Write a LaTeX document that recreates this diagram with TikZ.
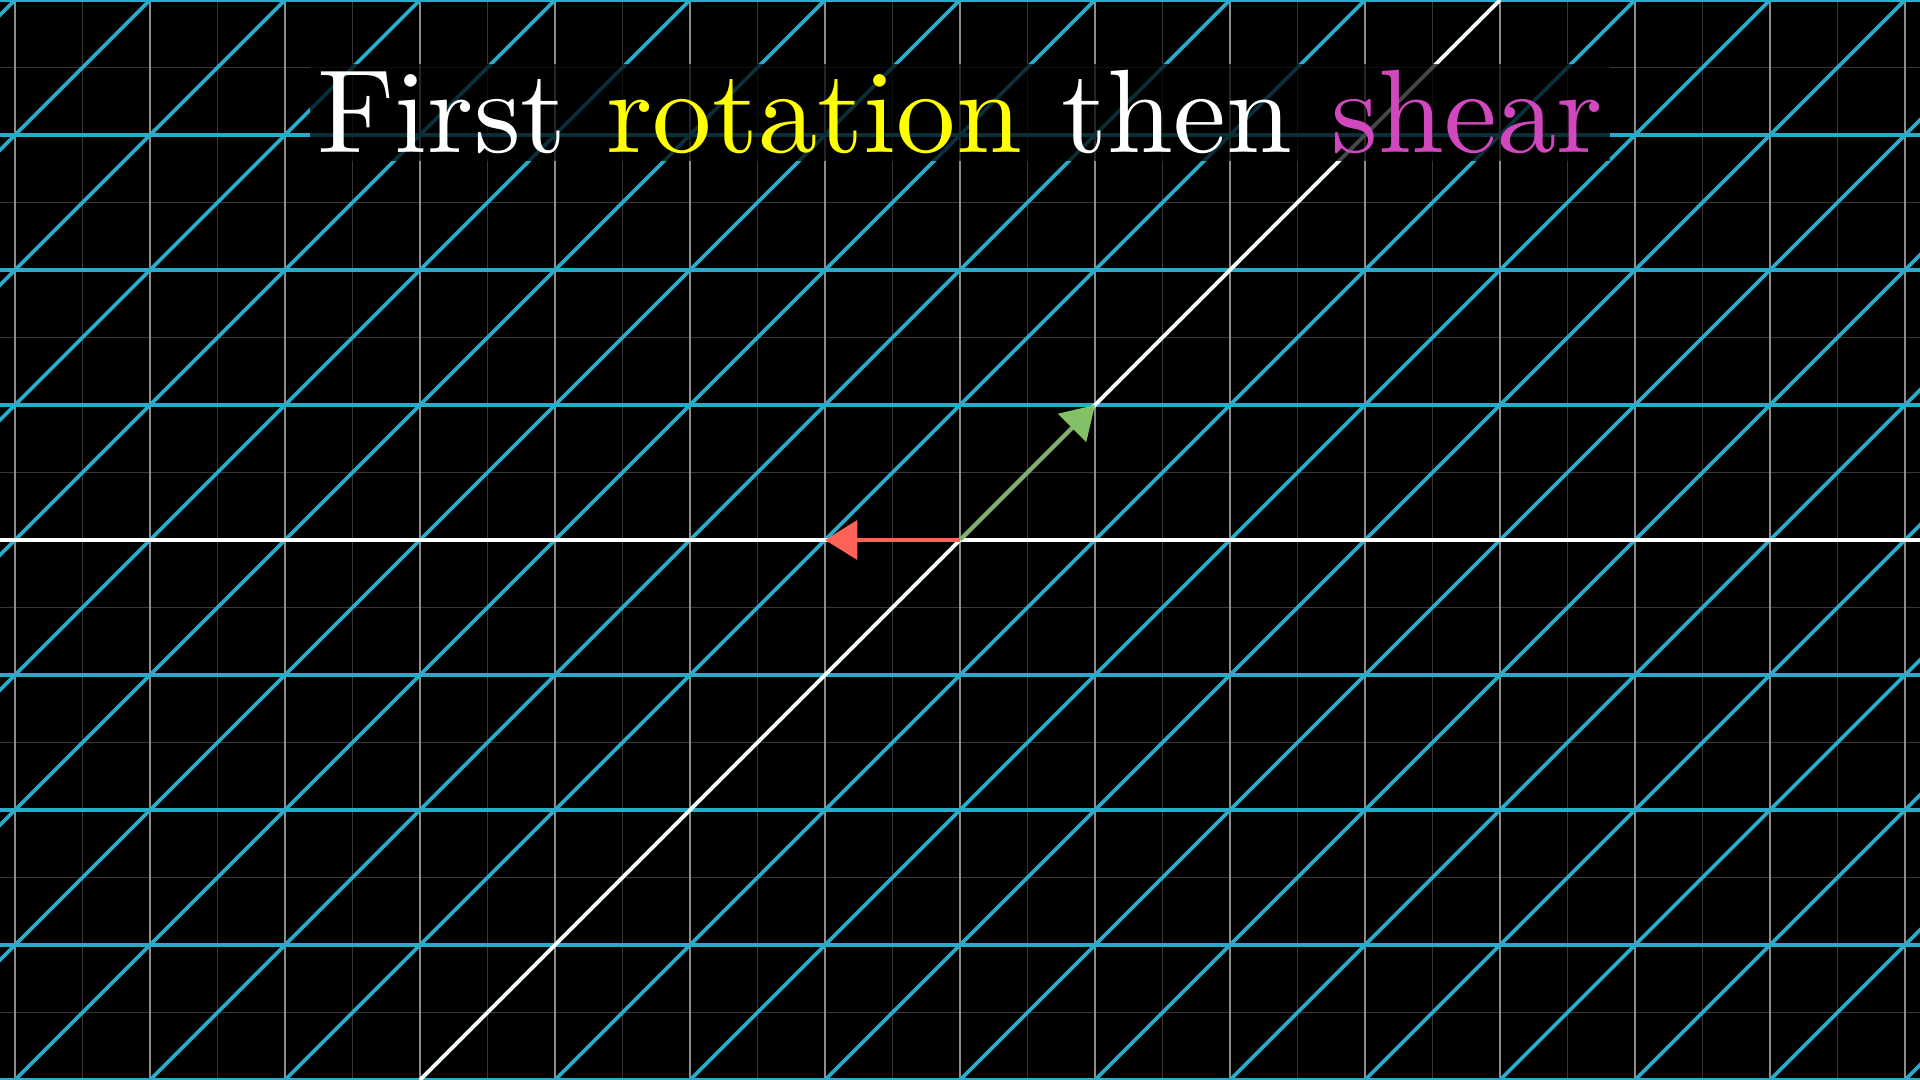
\documentclass[tikz,border=0pt]{standalone}
\usetikzlibrary{arrows.meta}
\definecolor{gridblue}{HTML}{29ABCA}
\definecolor{vecgreen}{HTML}{83C167}
\definecolor{vecred}{HTML}{FC6255}
\definecolor{rotyellow}{HTML}{FFFF00}
\definecolor{shearpink}{HTML}{D147BD}
\begin{document}
\begin{tikzpicture}[
    halfline/.style={black!78, line width=0.3pt},
    unitline/.style={white!55!black, line width=0.4pt},
    bluegrid/.style={gridblue, line width=0.8pt},
    axisline/.style={white, line width=0.8pt},
    vector/.style={line width=0.8pt, -{Triangle[length=2.4mm, width=2.9mm]}},
  ]
    % frame: 14.22 x 8 units, origin in the middle
    \fill[black] (-7.1111,-4) rectangle (7.1111,4);
    \useasboundingbox (-7.1111,-4) rectangle (7.1111,4);
    \clip (-7.1111,-4) rectangle (7.1111,4);
    % background plane
    \foreach \x in {-8,...,7} {
        \draw[halfline] (\x+0.5,-4) -- (\x+0.5,4);
    }
    \foreach \y in {-5,...,4} {
        \draw[halfline] (-7.2,\y+0.5) -- (7.2,\y+0.5);
    }
    \foreach \x in {-7,...,7} {
        \draw[unitline] (\x,-4) -- (\x,4);
    }
    % transformed grid: horizontal and 45 degree lines
    \foreach \y in {-4,...,4} {
        \draw[bluegrid] (-7.2,\y) -- (7.2,\y);
    }
    \foreach \k in {-12,...,12} {
        \draw[bluegrid] (\k-4,-4) -- (\k+4,4);
    }
    % transformed axes
    \draw[axisline] (-7.2,0) -- (7.2,0);
    \draw[axisline] (-4,-4) -- (4,4);
    % basis vectors
    \coordinate (O) at (0,0);
    \coordinate (ihat) at (1,1);
    \coordinate (jhat) at (-1,0);
    \draw[vector, vecgreen!75!gray, -{Triangle[length=2.4mm, width=2.9mm, color=vecgreen]}] (O) -- (ihat);
    \draw[vector, vecred] (O) -- (jhat);
    % title
    \node[fill=black, fill opacity=0.72, text opacity=1, text=white, inner sep=0.6pt,
          scale=2.5, anchor=base] (title) at (0,2.867)
        {First \textcolor{rotyellow}{rotation} then \textcolor{shearpink}{shear}};
\end{tikzpicture}
\end{document}
